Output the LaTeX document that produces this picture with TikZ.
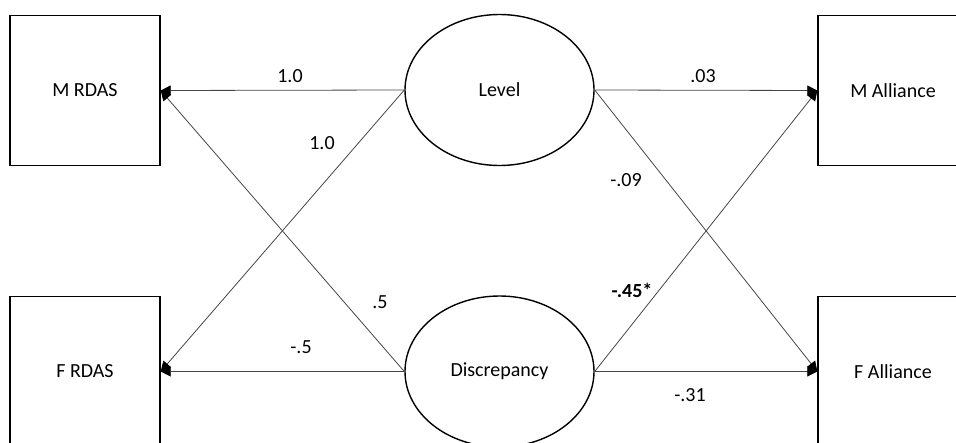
\documentclass[tikz,border=0pt]{standalone}
\usepackage{fontspec}
\setmainfont{Carlito}
\usepackage{tikz}
\usetikzlibrary{arrows.meta, shapes.geometric}
\definecolor{pathGray}{RGB}{70,70,70}

\begin{document}
\begin{tikzpicture}[x=1pt, y=-1pt,
  obs/.style={rectangle, draw, line width=1.4pt, minimum width=150pt, minimum height=150pt,
              inner sep=0pt, font=\fontsize{20}{24}\selectfont},
  lat/.style={ellipse, draw, line width=1.4pt, minimum width=189pt, minimum height=151pt,
              inner sep=0pt, font=\fontsize{20}{24}\selectfont},
  coef/.style={inner sep=0pt, font=\fontsize{20}{24}\selectfont},
  path/.style={-{Triangle[length=10pt, width=10pt, black]}, pathGray, line width=0.8pt}
]
\useasboundingbox (0,0) rectangle (956,442);
\clip (0,0) rectangle (956,442);

% Observed outcomes
\node[obs] (mrdas) at (85,90.5) {M RDAS};
\node[obs] (frdas) at (85,371.5) {F RDAS};
\node[obs] (mall) at (893,90.5) {M Alliance};
\node[obs] (fall) at (893,371.5) {F Alliance};

% Latent factors
\node[lat] (level) at (499.5,90) {Level};
\node[lat] (disc) at (499.5,371.5) {Discrepancy};

% Paths to RDAS
\draw[path] (level.west) -- (mrdas.east);
\draw[path] (level.west) -- (frdas.east);
\draw[path] (disc.west) -- (mrdas.east);
\draw[path] (disc.west) -- (frdas.east);

% Paths to alliance
\draw[path] (level.east) -- (mall.west);
\draw[path] (level.east) -- (fall.west);
\draw[path] (disc.east) -- (mall.west);
\draw[path] (disc.east) -- (fall.west);

% Coefficients
\node[coef] (c1) at (290,76) {1.0};
\node[coef] (c2) at (322,143) {1.0};
\node[coef] (c3) at (380,302) {.5};
\node[coef] (c4) at (301,347) {-.5};
\node[coef] (c5) at (703,76) {.03};
\node[coef] (c6) at (626,180) {-.09};
\node[coef] (c7) at (632,290) {\textbf{-.45*}};
\node[coef] (c8) at (690,395) {-.31};

\end{tikzpicture}
\end{document}
